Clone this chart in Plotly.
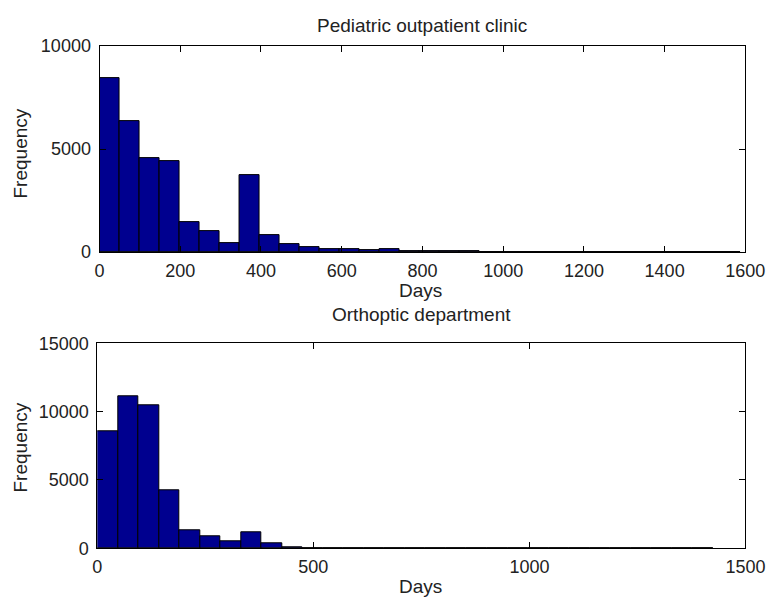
import plotly.graph_objects as go

# Top histogram: Pediatric outpatient clinic (32 bins)
ped_bin_width = 49.6
ped_counts = [8450, 6370, 4550, 4400, 1450, 1000, 440, 3760, 810, 390, 240, 160,
              130, 90, 140, 70, 40, 30, 30, 25, 20, 20, 15, 15, 10, 10, 10, 10,
              0, 20, 20, 15]
ped_xticks = [0, 200, 400, 600, 800, 1000, 1200, 1400, 1600]
ped_yticks = [0, 5000, 10000]

# Bottom histogram: Orthoptic department (30 bins)
ort_bin_width = 47.5
ort_counts = [8540, 11100, 10460, 4270, 1340, 900, 490, 1150, 370, 40, 30, 25,
              20, 20, 15, 15, 15, 10, 10, 10, 10, 0, 0, 30, 30, 0, 30, 0, 30, 30]
ort_xticks = [0, 500, 1000, 1500]
ort_yticks = [0, 5000, 10000, 15000]

titles = ["Pediatric outpatient clinic", "Orthoptic department"]
x_label = "Days"
y_label = "Frequency"

BAR = "#00008F"
FONT = "Liberation Sans, Arial, sans-serif"
W, H = 768, 599
TICK_SIZE = 18
LABEL_SIZE = 19

fig = go.Figure()
fig.add_trace(go.Bar(x=[i * ped_bin_width for i in range(len(ped_counts))], y=ped_counts,
                     width=ped_bin_width, offset=0,
                     marker=dict(color=BAR, line=dict(color="black", width=1)),
                     xaxis="x", yaxis="y", showlegend=False))
fig.add_trace(go.Bar(x=[i * ort_bin_width for i in range(len(ort_counts))], y=ort_counts,
                     width=ort_bin_width, offset=0,
                     marker=dict(color=BAR, line=dict(color="black", width=1)),
                     xaxis="x2", yaxis="y2", showlegend=False))

axis_common = dict(showgrid=False, zeroline=False, showline=True, linecolor="black", linewidth=1,
                   ticks="inside", ticklen=6, tickcolor="black", mirror="ticks", automargin=False,
                   tickfont=dict(family=FONT, size=TICK_SIZE, color="#222222"))
x_common = dict(ticklabelstandoff=2, **axis_common)
y_common = dict(ticklabelstandoff=4, **axis_common)


def ann(text, px, py, size=LABEL_SIZE, angle=0):
    return dict(text=text, x=px / W, y=1 - py / H, xref="paper", yref="paper", showarrow=False,
                textangle=angle, xanchor="center", yanchor="middle",
                font=dict(family=FONT, size=size, color="#222222"))


fig.update_layout(
    width=W, height=H, margin=dict(l=0, r=0, t=0, b=0, autoexpand=False),
    paper_bgcolor="white", plot_bgcolor="white", bargap=0,
    xaxis=dict(domain=[0.1296, 0.9705], range=[0, 1600], tickvals=ped_xticks,
               ticktext=[str(v) for v in ped_xticks], anchor="y", **x_common),
    yaxis=dict(domain=[0.579, 0.923], range=[0, 10000], tickvals=ped_yticks,
               ticktext=[str(v) for v in ped_yticks], anchor="x", **y_common),
    xaxis2=dict(domain=[0.1267, 0.9707], range=[0, 1500], tickvals=ort_xticks,
                ticktext=[str(v) for v in ort_xticks], anchor="y2", **x_common),
    yaxis2=dict(domain=[0.0846, 0.4269], range=[0, 15000], tickvals=ort_yticks,
                ticktext=[str(v) for v in ort_yticks], anchor="x2", **y_common),
    font=dict(family=FONT, size=TICK_SIZE, color="#222222"),
    annotations=[
        ann(titles[0], 421.5, 25),
        ann(titles[1], 421, 314),
        ann(x_label, 420, 290.5),
        ann(x_label, 420.5, 586),
        ann(y_label, 20, 153.5, angle=-90),
        ann(y_label, 20, 447.5, angle=-90),
    ],
)

fig.write_html("out.html",
               post_script="document.body.style.margin='0';document.documentElement.style.overflow='hidden';")
